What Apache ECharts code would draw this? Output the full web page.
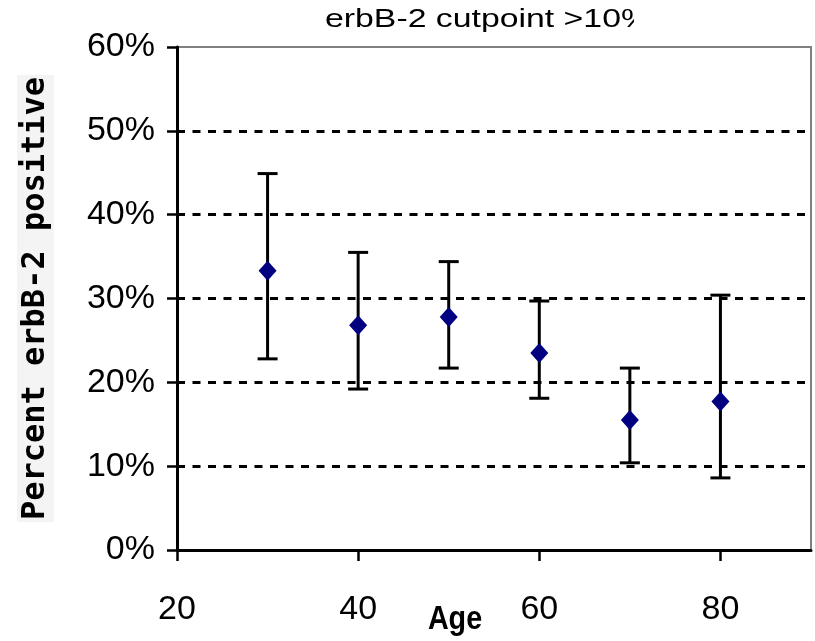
<!DOCTYPE html>
<html>
<head>
<meta charset="utf-8">
<script src="https://cdn.jsdelivr.net/npm/echarts@6/dist/echarts.min.js"></script>
<style>
html,body{margin:0;padding:0;background:#fff;}
#chart{width:815px;height:641px;}
</style>
</head>
<body>
<div id="chart"></div>
<script>
// Data
var ages = [30, 40, 50, 60, 70, 80];
var percentPositive = [33.3, 26.8, 27.8, 23.5, 15.5, 17.7];
var lowerCI = [22.8, 19.2, 21.7, 18.1, 10.4, 8.6];
var upperCI = [44.9, 35.5, 34.4, 29.7, 21.7, 30.4];
var xTicks = [20, 40, 60, 80];
var titleText = 'erbB-2 cutpoint >10%';
var xName = 'Age';
var yName = 'Percent erbB-2 positive';

var pointData = ages.map(function (a, i) { return [a, percentPositive[i]]; });
var barData = ages.map(function (a, i) { return [a, lowerCI[i], upperCI[i]]; });

var chart = echarts.init(document.getElementById('chart'));
var option = {
  backgroundColor: '#ffffff',
  animation: false,
  grid: {
    left: 177, top: 47, right: 4, bottom: 91,
    outerBoundsMode: 'none',
    containLabel: false,
    show: true, borderColor: '#808080', borderWidth: 2, backgroundColor: 'transparent'
  },
  xAxis: {
    type: 'value', min: 20, max: 90, interval: 10,
    axisLine: { show: true, onZero: false, lineStyle: { color: '#000', width: 3 } },
    axisTick: { show: true, customValues: xTicks, length: 11, lineStyle: { color: '#000', width: 2.5 } },
    axisLabel: { customValues: xTicks, margin: 43, fontSize: 34, color: '#000', fontFamily: 'Liberation Sans, Arial, sans-serif' },
    splitLine: { show: false }
  },
  yAxis: {
    type: 'value', min: 0, max: 60, interval: 10,
    axisLine: { show: true, lineStyle: { color: '#000', width: 3 } },
    axisTick: { show: true, length: 10, lineStyle: { color: '#000', width: 2.5 } },
    axisLabel: { formatter: '{value}%', margin: 22, fontSize: 34, color: '#000', fontFamily: 'Liberation Sans, Arial, sans-serif' },
    splitLine: { show: true, showMinLine: false, showMaxLine: false, lineStyle: { color: '#000', width: 3, type: [8, 7.5] } },
    name: yName,
    nameLocation: 'middle',
    nameRotate: 90,
    nameGap: 123,
    nameTextStyle: {
      fontFamily: 'DejaVu Sans Mono, Liberation Mono, monospace', fontWeight: 'bold', fontSize: 32,
      color: '#000', backgroundColor: '#f4f4f4', padding: [3, 2, 2, 2]
    }
  },
  graphic: [
    {
      type: 'text', x: 325, y: 20, scaleX: 1.3, originX: 0, originY: 0, z: 10,
      style: { text: titleText, fontSize: 26, fontFamily: 'Liberation Sans, Arial, sans-serif', fill: '#000', align: 'left', verticalAlign: 'middle' }
    },
    {
      type: 'rect', shape: { x: 634, y: 0, width: 80, height: 40 }, z: 20,
      style: { fill: '#ffffff' }
    },
    {
      type: 'text', x: 455, y: 620, scaleX: 0.87, originX: 0, originY: 0, z: 10,
      style: { text: xName, fontSize: 33, fontWeight: 'bold', fontFamily: 'Liberation Sans, Arial, sans-serif', fill: '#000', align: 'center', verticalAlign: 'middle' }
    }
  ],
  series: [
    {
      type: 'custom',
      z: 2,
      data: barData,
      renderItem: function (params, api) {
        var x = api.value(0);
        var lo = api.coord([x, api.value(1)]);
        var hi = api.coord([x, api.value(2)]);
        var hw = 10;
        var st = { stroke: '#000', lineWidth: 3 };
        return {
          type: 'group',
          children: [
            { type: 'line', shape: { x1: lo[0], y1: lo[1], x2: hi[0], y2: hi[1] }, style: st },
            { type: 'line', shape: { x1: lo[0] - hw, y1: lo[1], x2: lo[0] + hw, y2: lo[1] }, style: st },
            { type: 'line', shape: { x1: hi[0] - hw, y1: hi[1], x2: hi[0] + hw, y2: hi[1] }, style: st }
          ]
        };
      }
    },
    {
      type: 'scatter',
      z: 5,
      data: pointData,
      symbol: 'diamond',
      symbolSize: [18, 20],
      itemStyle: { color: '#000080', opacity: 1 }
    }
  ]
};
chart.setOption(option);
</script>
</body>
</html>
